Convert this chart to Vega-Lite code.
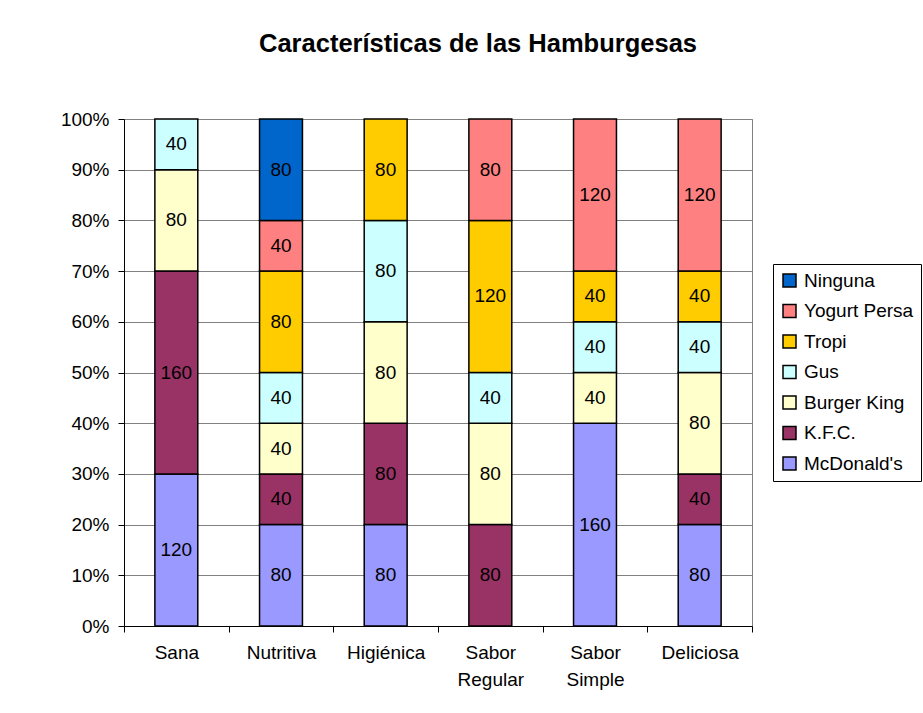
{
  "$schema": "https://vega.github.io/schema/vega-lite/v6.json",
  "width": 628,
  "height": 507,
  "autosize": {"type": "none"},
  "padding": {"left": 124, "top": 119, "right": 171, "bottom": 87},
  "background": "white",
  "title": {
    "text": "Características de las Hamburgesas",
    "font": "Liberation Sans",
    "fontSize": 25.5,
    "fontWeight": "bold",
    "color": "black",
    "anchor": "middle",
    "frame": "group",
    "dx": 40,
    "offset": 52.5
  },
  "data": {
    "values": [
      {"categoria": "Sana", "marca": "McDonald's", "orden": 1, "valor": 120},
      {"categoria": "Sana", "marca": "K.F.C.", "orden": 2, "valor": 160},
      {"categoria": "Sana", "marca": "Burger King", "orden": 3, "valor": 80},
      {"categoria": "Sana", "marca": "Gus", "orden": 4, "valor": 40},
      {"categoria": "Nutritiva", "marca": "McDonald's", "orden": 1, "valor": 80},
      {"categoria": "Nutritiva", "marca": "K.F.C.", "orden": 2, "valor": 40},
      {"categoria": "Nutritiva", "marca": "Burger King", "orden": 3, "valor": 40},
      {"categoria": "Nutritiva", "marca": "Gus", "orden": 4, "valor": 40},
      {"categoria": "Nutritiva", "marca": "Tropi", "orden": 5, "valor": 80},
      {"categoria": "Nutritiva", "marca": "Yogurt Persa", "orden": 6, "valor": 40},
      {"categoria": "Nutritiva", "marca": "Ninguna", "orden": 7, "valor": 80},
      {"categoria": "Higiénica", "marca": "McDonald's", "orden": 1, "valor": 80},
      {"categoria": "Higiénica", "marca": "K.F.C.", "orden": 2, "valor": 80},
      {"categoria": "Higiénica", "marca": "Burger King", "orden": 3, "valor": 80},
      {"categoria": "Higiénica", "marca": "Gus", "orden": 4, "valor": 80},
      {"categoria": "Higiénica", "marca": "Tropi", "orden": 5, "valor": 80},
      {"categoria": "Sabor Regular", "marca": "K.F.C.", "orden": 2, "valor": 80},
      {"categoria": "Sabor Regular", "marca": "Burger King", "orden": 3, "valor": 80},
      {"categoria": "Sabor Regular", "marca": "Gus", "orden": 4, "valor": 40},
      {"categoria": "Sabor Regular", "marca": "Tropi", "orden": 5, "valor": 120},
      {"categoria": "Sabor Regular", "marca": "Yogurt Persa", "orden": 6, "valor": 80},
      {"categoria": "Sabor Simple", "marca": "McDonald's", "orden": 1, "valor": 160},
      {"categoria": "Sabor Simple", "marca": "Burger King", "orden": 3, "valor": 40},
      {"categoria": "Sabor Simple", "marca": "Gus", "orden": 4, "valor": 40},
      {"categoria": "Sabor Simple", "marca": "Tropi", "orden": 5, "valor": 40},
      {"categoria": "Sabor Simple", "marca": "Yogurt Persa", "orden": 6, "valor": 120},
      {"categoria": "Deliciosa", "marca": "McDonald's", "orden": 1, "valor": 80},
      {"categoria": "Deliciosa", "marca": "K.F.C.", "orden": 2, "valor": 40},
      {"categoria": "Deliciosa", "marca": "Burger King", "orden": 3, "valor": 80},
      {"categoria": "Deliciosa", "marca": "Gus", "orden": 4, "valor": 40},
      {"categoria": "Deliciosa", "marca": "Tropi", "orden": 5, "valor": 40},
      {"categoria": "Deliciosa", "marca": "Yogurt Persa", "orden": 6, "valor": 120}
    ]
  },
  "transform": [
    {
      "stack": "valor",
      "groupby": ["categoria"],
      "sort": [{"field": "orden", "order": "ascending"}],
      "offset": "normalize",
      "as": ["y0", "y1"]
    },
    {"calculate": "(datum.y0 + datum.y1) / 2", "as": "ymid"}
  ],
  "encoding": {
    "x": {
      "field": "categoria",
      "type": "nominal",
      "sort": ["Sana", "Nutritiva", "Higiénica", "Sabor Regular", "Sabor Simple", "Deliciosa"],
      "scale": {"paddingInner": 0, "paddingOuter": 0},
      "axis": {
        "title": null,
        "labelAngle": 0,
        "labelFont": "Liberation Sans",
        "labelFontSize": 19,
        "labelColor": "black",
        "labelExpr": "split(datum.label, ' ')",
        "labelLineHeight": 27,
        "labelPadding": 11,
        "labelBaseline": "top",
        "tickBand": "extent",
        "tickSize": 6,
        "tickColor": "black",
        "domainColor": "black",
        "domainWidth": 1,
        "grid": false
      }
    }
  },
  "layer": [
    {
      "mark": {"type": "bar", "width": {"band": 0.41}, "stroke": "black", "strokeWidth": 1.5},
      "encoding": {
        "y": {
          "field": "y0",
          "type": "quantitative",
          "scale": {"domain": [0, 1], "nice": false},
          "axis": {
            "title": null,
            "values": [0, 0.1, 0.2, 0.3, 0.4, 0.5, 0.6, 0.7, 0.8, 0.9, 1],
            "format": ".0%",
            "labelFont": "Liberation Sans",
            "labelFontSize": 19,
            "labelColor": "black",
            "labelPadding": 9,
            "tickSize": 6,
            "tickColor": "black",
            "domainColor": "black",
            "gridColor": "#808080",
            "gridWidth": 1
          }
        },
        "y2": {"field": "y1"},
        "fill": {
          "field": "marca",
          "type": "nominal",
          "scale": {
            "domain": ["Ninguna", "Yogurt Persa", "Tropi", "Gus", "Burger King", "K.F.C.", "McDonald's"],
            "range": ["#0066CC", "#FF8080", "#FFCC00", "#CCFFFF", "#FFFFCC", "#993366", "#9999FF"]
          },
          "legend": {
            "title": null,
            "orient": "none",
            "legendX": 649,
            "legendY": 145,
            "strokeColor": "black",
            "fillColor": "white",
            "padding": 7,
            "labelFont": "Liberation Sans",
            "labelFontSize": 19,
            "labelColor": "black",
            "labelOffset": 5,
            "symbolType": "square",
            "symbolSize": 169,
            "symbolStrokeColor": "black",
            "symbolStrokeWidth": 1.5,
            "rowPadding": 10.5
          }
        }
      }
    },
    {
      "mark": {"type": "text", "font": "Liberation Sans", "fontSize": 19, "color": "black", "align": "center", "baseline": "middle"},
      "encoding": {
        "y": {"field": "ymid", "type": "quantitative"},
        "text": {"field": "valor", "type": "quantitative"}
      }
    }
  ],
  "config": {
    "view": {"stroke": "#808080", "strokeWidth": 1}
  }
}
